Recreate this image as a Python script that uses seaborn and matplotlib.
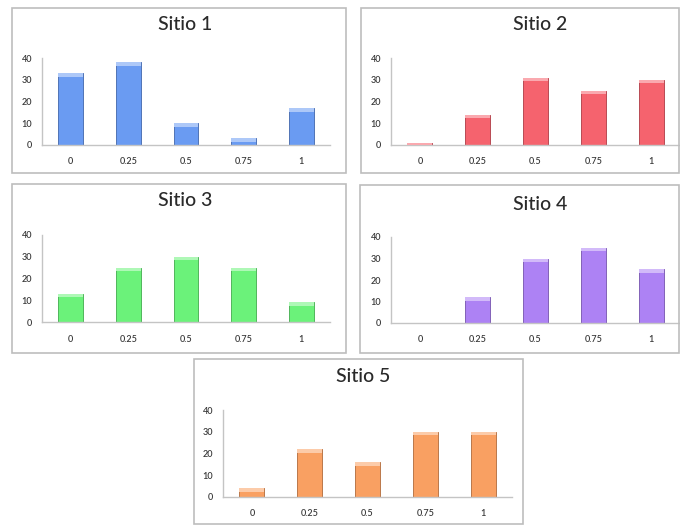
import matplotlib
matplotlib.use("Agg")
import matplotlib.pyplot as plt
import seaborn as sns
import pandas as pd
import matplotlib.colors as mcolors
from matplotlib.patches import Rectangle

categories = ["0", "0.25", "0.5", "0.75", "1"]
sitio1 = [33, 38, 10, 3, 17]
sitio2 = [1, 14, 31, 25, 30]
sitio3 = [13, 25, 30, 25, 9]
sitio4 = [0, 12, 30, 35, 25]
sitio5 = [4, 22, 16, 30, 30]
titles = ["Sitio 1", "Sitio 2", "Sitio 3", "Sitio 4", "Sitio 5"]
colors = ["#6A9BF2", "#F5636E", "#6BF27A", "#AD82F4", "#F9A062"]
yticks = [0, 10, 20, 30, 40]

sns.set_style("white")
plt.rcParams["font.family"] = ["Lato", "DejaVu Sans"]

W, H = 680, 525
fig = plt.figure(figsize=(W / 100, H / 100), dpi=100)


def rect(x0, y0, x1, y1):
    return [x0 / W, 1 - y1 / H, (x1 - x0) / W, (y1 - y0) / H]


axes_px = [(42, 58, 330, 145), (391, 58, 680, 145), (42, 235, 330, 322),
           (391, 237, 680, 323), (223, 410, 512, 497)]
borders_px = [(12, 8, 346, 173), (361, 8, 679, 173), (12, 184, 346, 353),
              (360, 185, 679, 353), (194, 359, 523, 524)]
title_px = [(185, 25), (540, 25), (185, 200), (540, 205), (363, 376)]
series = [sitio1, sitio2, sitio3, sitio4, sitio5]

for (bx0, by0, bx1, by1) in borders_px:
    fig.patches.append(Rectangle((bx0 / W, 1 - by1 / H), (bx1 - bx0) / W, (by1 - by0) / H,
                                 transform=fig.transFigure, fill=False,
                                 edgecolor="#BDBDBD", linewidth=1.2, zorder=0))

for i, vals in enumerate(series):
    ax = fig.add_axes(rect(*axes_px[i]))
    df = pd.DataFrame({"cat": categories, "val": vals})
    base = mcolors.to_rgb(colors[i])
    dark = tuple(c * 0.75 for c in base)
    light = tuple(c + (1 - c) * 0.45 for c in base)
    sns.barplot(data=df, x="cat", y="val", order=categories, color=colors[i],
                saturation=1, width=0.43, edgecolor=dark, linewidth=0.7, ax=ax)
    for p in list(ax.patches):
        h = p.get_height()
        if h > 0:
            cap = min(1.6, h)
            ax.add_patch(Rectangle((p.get_x(), h - cap), p.get_width(), cap,
                                   facecolor=light, edgecolor="none", zorder=3))
    ax.set_ylim(0, 40)
    ax.set_xlim(-0.5, 4.5)
    ax.set_yticks(yticks)
    ax.set_xlabel("")
    ax.set_ylabel("")
    ax.tick_params(axis="both", length=0, labelsize=6.5, colors="#3a3a3a")
    ax.tick_params(axis="x", pad=9)
    ax.tick_params(axis="y", pad=7)
    for lbl in ax.get_xticklabels() + ax.get_yticklabels():
        lbl.set_fontweight("semibold")
    for s in ["top", "right"]:
        ax.spines[s].set_visible(False)
    for s in ["left", "bottom"]:
        ax.spines[s].set_color("#C4C4C4")
        ax.spines[s].set_linewidth(1.0)
    ax.set_facecolor("none")
    tx, ty = title_px[i]
    fig.text(tx / W, 1 - ty / H, titles[i], ha="center", va="center",
             fontsize=14, fontweight="medium", color="#2a2a2a")

fig.savefig("out.png", dpi=100, facecolor="white")
